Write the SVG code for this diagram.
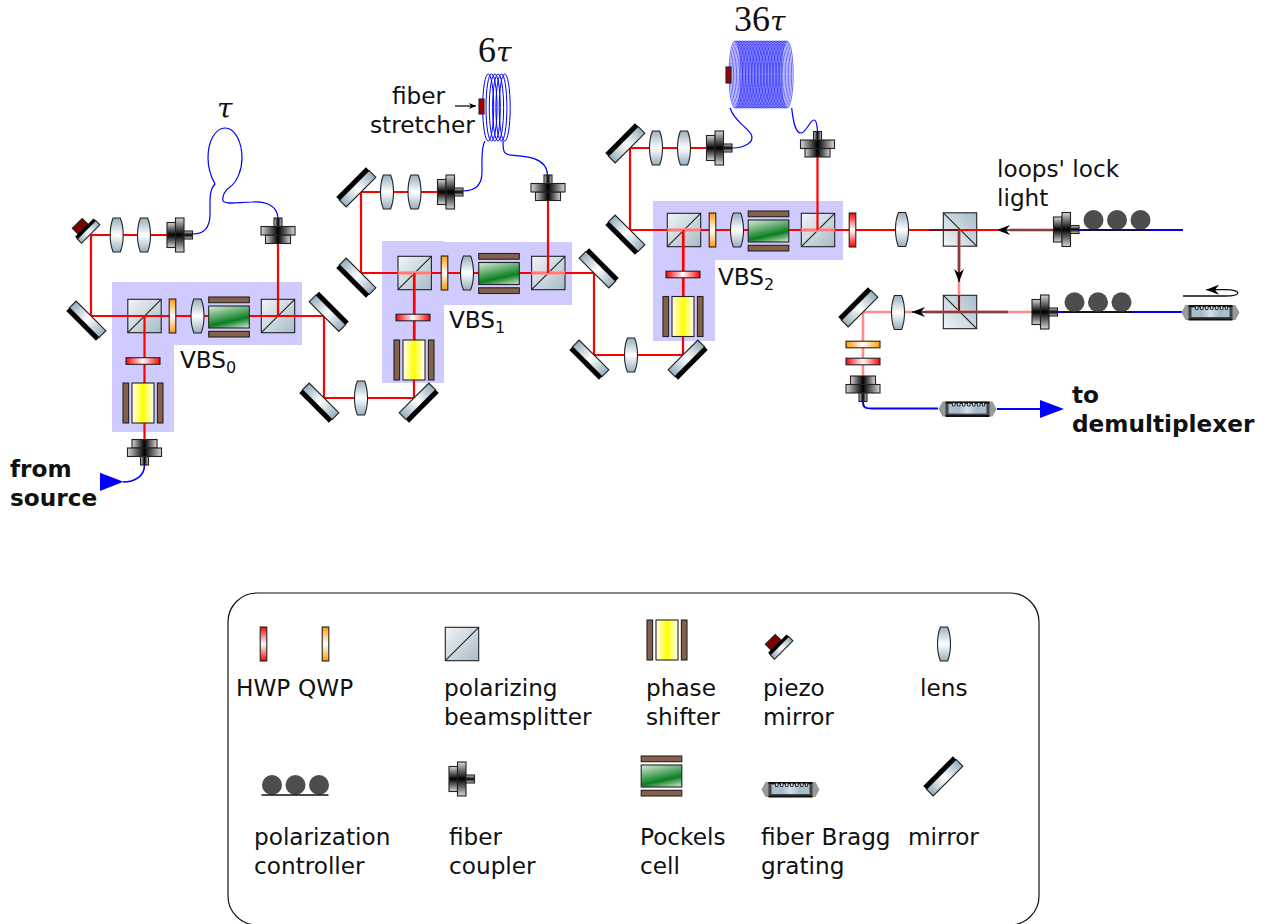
<svg xmlns="http://www.w3.org/2000/svg" xmlns:xlink="http://www.w3.org/1999/xlink" width="1268" height="924" viewBox="0 0 1268 924">
<style>
text{font-family:"DejaVu Sans",sans-serif;font-size:23.2px;fill:#111}
.b{font-weight:bold}
.m{font-family:"Liberation Serif",serif;font-size:36px}
.t{font-family:"DejaVu Serif",serif;font-size:28px;font-style:italic}
.sub{font-size:16px}
.s{stroke:#222;stroke-width:1.1}
.beam{fill:none;stroke:#f00;stroke-width:2.2}
.pale{fill:none;stroke:#ff8a8a;stroke-width:2.6}
.band{fill:none;stroke:#ff9a9a;stroke-width:4;opacity:.8}
.lock{fill:none;stroke:#5a1818;stroke-width:1.8}
.lockv{fill:none;stroke:#8a3a3a;stroke-width:2.6}
.fib{fill:none;stroke:#00f;stroke-width:1.2}
.fibw{fill:none;stroke:#00f;stroke-width:2}
.coil{fill:none;stroke:#00f;stroke-width:1}
.coilf{fill:none;stroke:#1a1aff;stroke-width:.65}
.vbs{fill:#d0cbff}
.pc{fill:#4d4d4d}
.thin{fill:none;stroke:#111;stroke-width:1.3}
</style>
<defs>
<linearGradient id="gCoup" x1="0" y1="0" x2="0" y2="1"><stop offset="0" stop-color="#d8d8d8"/><stop offset=".5" stop-color="#000"/><stop offset="1" stop-color="#d8d8d8"/></linearGradient>
<linearGradient id="gSteel" x1="0" y1="0" x2="1" y2="0"><stop offset="0" stop-color="#96aebd"/><stop offset=".5" stop-color="#fff"/><stop offset="1" stop-color="#96aebd"/></linearGradient>
<linearGradient id="gLens" x1="0" y1="0" x2="0" y2="1"><stop offset="0" stop-color="#96aebd"/><stop offset=".5" stop-color="#fff"/><stop offset="1" stop-color="#96aebd"/></linearGradient>
<linearGradient id="gPbs" x1="0" y1="0" x2="1" y2="1"><stop offset="0" stop-color="#f2f5f7"/><stop offset="1" stop-color="#a6bbc8"/></linearGradient>
<linearGradient id="gRed" x1="0" y1="0" x2="0" y2="1"><stop offset="0" stop-color="#f00"/><stop offset=".5" stop-color="#fff"/><stop offset="1" stop-color="#f00"/></linearGradient>
<linearGradient id="gOr" x1="0" y1="0" x2="0" y2="1"><stop offset="0" stop-color="#ff9a00"/><stop offset=".5" stop-color="#fff"/><stop offset="1" stop-color="#ff9a00"/></linearGradient>
<linearGradient id="gYel" x1="0" y1="0" x2="1" y2="0"><stop offset="0" stop-color="#fff"/><stop offset=".5" stop-color="#ff0"/><stop offset="1" stop-color="#fff"/></linearGradient>
<linearGradient id="gGrn" x1=".25" y1="-.1" x2=".75" y2="1.1"><stop offset="0" stop-color="#dcebdc"/><stop offset=".65" stop-color="#0a7f20"/><stop offset="1" stop-color="#dcebdc"/></linearGradient>
<g id="coupler"><rect class="s" x="-13" y="-12.5" width="8.5" height="25" fill="url(#gCoup)"/><rect class="s" x="-4.5" y="-17" width="8.5" height="34" fill="url(#gCoup)"/><rect class="s" x="4" y="-4" width="8.5" height="8" fill="url(#gCoup)"/></g>
<g id="mirror"><rect class="s" x="-21" y="0" width="42" height="9.5" fill="url(#gSteel)"/><rect x="-21" y="9.5" width="42" height="4.5" fill="#000"/></g>
<g id="piezo"><rect class="s" x="-5" y="9" width="14" height="8" fill="#800000"/><rect class="s" x="-13" y="0" width="26" height="6" fill="url(#gSteel)"/><rect x="-13" y="6" width="26" height="3" fill="#000"/></g>
<path id="lens" class="s" fill="url(#gLens)" d="M-3.6,-17H3.6C5.6,-12 6.5,-5 6.5,0C6.5,5 5.6,12 3.6,17H-3.6C-5.6,12 -6.5,5 -6.5,0C-6.5,-5 -5.6,-12 -3.6,-17Z"/>
<g id="pbs"><rect class="s" x="-16.7" y="-16.7" width="33.4" height="33.4" fill="url(#gPbs)"/><path class="s" fill="none" d="M-16.7,16.7L16.7,-16.7"/></g>
<rect id="hwp" class="s" x="-3.3" y="-17" width="6.6" height="34" fill="url(#gRed)"/>
<rect id="qwp" class="s" x="-3.3" y="-17" width="6.6" height="34" fill="url(#gOr)"/>
<g id="pockels"><rect class="s" x="-20.3" y="-11" width="40.6" height="22" fill="url(#gGrn)"/><rect class="s" x="-20.3" y="-20" width="40.6" height="5.7" fill="#85614a"/><rect class="s" x="-20.3" y="14.3" width="40.6" height="5.7" fill="#85614a"/></g>
<g id="shifter"><rect class="s" x="-11" y="-20" width="22" height="40" fill="url(#gYel)"/><rect class="s" x="-20" y="-20" width="5.6" height="40" fill="#85614a"/><rect class="s" x="14.4" y="-20" width="5.6" height="40" fill="#85614a"/></g>
<g id="polc"><circle class="pc" cx="-22.5" cy="-10" r="10"/><circle class="pc" cx="1" cy="-10" r="10"/><circle class="pc" cx="24.5" cy="-10" r="10"/><path d="M-33,0H34" stroke="#111" stroke-width="1.6"/></g>
<g id="fbg"><path fill="#999" d="M-29,0L-25,-7.5H25L29,0L25,7.5H-25Z"/><rect x="-22" y="-6.5" width="44" height="13.5" fill="#444"/><rect x="-19" y="-5" width="38" height="9.5" fill="#a9bfcc"/><rect x="-10" y="-5" width="20" height="9.5" fill="url(#gSteel)" opacity=".5"/><path d="M-22,-6.5H22M-22,7H22" stroke="#111" stroke-width="1.8"/><path d="M-15,-6V-3H-12.5V-6M-10,-6V-3H-7.5V-6M-5,-6V-3H-2.5V-6M0,-6V-3H2.5V-6M5,-6V-3H7.5V-6M10,-6V-3H12.5V-6M15,-6V-3H17V-6" fill="#ddd" stroke="#111" stroke-width=".8"/></g>
<g id="c6"><ellipse class="coilf" cx="0" cy="0" rx="6" ry="33.5"/><ellipse class="coilf" cx="1.49" cy="0" rx="6" ry="33.5"/><ellipse class="coilf" cx="2.98" cy="0" rx="6" ry="33.5"/><ellipse class="coilf" cx="4.47" cy="0" rx="6" ry="33.5"/><ellipse class="coilf" cx="5.96" cy="0" rx="6" ry="33.5"/><ellipse class="coilf" cx="7.45" cy="0" rx="6" ry="33.5"/></g>
<marker id="ah" markerUnits="userSpaceOnUse" viewBox="-15 -6 16 12" refX="0" refY="0" markerWidth="16" markerHeight="12" orient="auto"><path d="M0,0L-13,-5L-9,0L-13,5Z" fill="#000"/></marker>
<marker id="ahs" markerUnits="userSpaceOnUse" viewBox="-8 -4 9 8" refX="0" refY="0" markerWidth="9" markerHeight="8" orient="auto"><path d="M0,0L-7,-3L-5,0L-7,3Z" fill="#000"/></marker>
</defs>
<g id="vbs-regions">
<path id="vbs0-bg" class="vbs" d="M112,282H302V345H174V432H112Z"/>
<path id="vbs1-bg" class="vbs" d="M382,241H444V242H572V305H444V383H382Z"/>
<path id="vbs2-bg" class="vbs" d="M653,201H843V260H715V341H653Z"/>
</g>
<g id="splitters">
<use id="pbs0a" href="#pbs" x="144.5" y="316"/>
<use id="pbs0b" href="#pbs" x="278" y="316"/>
<use id="pbs1a" href="#pbs" x="414.7" y="273"/>
<use id="pbs1b" href="#pbs" x="548.3" y="273"/>
<use id="pbs2a" href="#pbs" x="684" y="230"/>
<use id="pbs2b" href="#pbs" x="818" y="230"/>
<use id="pbs3a" href="#pbs" transform="translate(960,229.5) rotate(-90)"/>
<use id="pbs3b" href="#pbs" transform="translate(960,312) rotate(-90)"/>
</g>
<g id="connectors">
<path class="beam" d="M167,235H91V316H324V398H414V273"/>
<path class="beam" d="M144.5,316V440M278,243V316"/>
<path class="beam" d="M437,192H361V273H594V355H683V230"/>
<path class="band" d="M398,273H431M531.6,273H565"/>
<path class="beam" d="M414.5,273V340M548,200V273"/>
<path class="beam" d="M707,148H630V230H997"/>
<path class="band" d="M667.3,230H700.7M801.3,230H834.7"/>
<path class="beam" d="M683.5,230V297M817.5,157V230"/>
<path class="pale" d="M1032,312H863V376M959,230V312"/>
<path class="lock" d="M929,230H960"/>
<path class="lockv" d="M959,230V270"/>
<path class="thin" d="M959,270V282" marker-end="url(#ah)"/>
<path class="lock" d="M959,295V312"/>
<path class="lockv" d="M1008,312H925"/>
<path class="thin" d="M925,312H912" marker-end="url(#ah)"/>
<path class="lockv" d="M1053,230H1010"/>
<path class="thin" d="M1010,230H997" marker-end="url(#ah)"/>
<path class="fib" d="M193,234C205,234 210,226 210,214C210,200 209,190 215,184C210,175 208,168 208,158C208,140 216,128 225,128C235,128 242,142 242,158C242,170 237,182 230,187C225,190 222,196 223,201C226,205 240,202 252,202C265,201 277,205 278,218"/>
<path class="fib" d="M463,191C475,191 482,186 482,172C482,160 481,147 485,141M503,141C503,152 504,154 510,155C525,156 547,157 547.5,175"/>
<path class="fib" d="M730,108C735,122 745,125 751,134C755,142 745,148 732,148M791.7,108C793,120 795,133 801,133C806,133 810,120 814,120C817,120 817,126 817.5,131"/>
<path class="fibw" d="M1079,230H1183M1058,312H1182M863,402C863,408 866,408.5 872,408.5H938M997,409H1040"/>
<path class="fib" style="stroke-width:1.6" d="M144.5,465C144.5,476 135,482 123,482"/>
<path class="thin" d="M1183,296H1225C1242,296 1242,290 1226,289.7H1206" marker-end="url(#ah)"/>
<path class="thin" d="M455,106H476" marker-end="url(#ahs)"/>
</g>
<g id="coil-tau-6">
<ellipse class="coil" cx="488.2" cy="107.5" rx="5.5" ry="33.5"/><ellipse class="coil" cx="491.5" cy="107.5" rx="5.5" ry="33.5"/><ellipse class="coil" cx="494.8" cy="107.5" rx="5.5" ry="33.5"/><ellipse class="coil" cx="498.1" cy="107.5" rx="5.5" ry="33.5"/><ellipse class="coil" cx="501.4" cy="107.5" rx="5.5" ry="33.5"/><ellipse class="coil" cx="504.7" cy="107.5" rx="5.5" ry="33.5"/>
</g>
<g id="coil-tau-36">
<use href="#c6" x="735" y="74.5"/><use href="#c6" x="743.94" y="74.5"/><use href="#c6" x="752.88" y="74.5"/><use href="#c6" x="761.82" y="74.5"/><use href="#c6" x="770.76" y="74.5"/><use href="#c6" x="779.7" y="74.5"/>
</g>
<g id="stretchers">
<rect id="stretch6" class="s" x="479" y="99" width="5" height="15" fill="#a00000"/>
<rect id="stretch36" class="s" x="726" y="67" width="5" height="16" fill="#a00000"/>
</g>
<g id="mirrors">
<use id="mp0" href="#piezo" transform="translate(90.7,234) rotate(135)"/>
<use id="m0" href="#mirror" transform="translate(91,316) rotate(45)"/>
<use id="m1" href="#mirror" transform="translate(324,316.5) rotate(-135)"/>
<use id="m2" href="#mirror" transform="translate(324,398) rotate(45)"/>
<use id="m4" href="#mirror" transform="translate(414,398) rotate(-45)"/>
<use id="m5" href="#mirror" transform="translate(361,273) rotate(45)"/>
<use id="m6" href="#mirror" transform="translate(361,192) rotate(135)"/>
<use id="m7" href="#mirror" transform="translate(594,273) rotate(-135)"/>
<use id="m8" href="#mirror" transform="translate(594,355) rotate(45)"/>
<use id="m9" href="#mirror" transform="translate(683,355) rotate(-45)"/>
<use id="m10" href="#mirror" transform="translate(630,230) rotate(45)"/>
<use id="m11" href="#mirror" transform="translate(630,148) rotate(135)"/>
<use id="m12" href="#mirror" transform="translate(863,312) rotate(135)"/>
</g>
<g id="lenses">
<use id="l1" href="#lens" x="116.7" y="235"/><use id="l2" href="#lens" x="144" y="235"/><use id="l3" href="#lens" x="197.5" y="316"/><use id="l4" href="#lens" x="361" y="398"/><use id="l5" href="#lens" x="467" y="273"/><use id="l6" href="#lens" x="387" y="192"/><use id="l7" href="#lens" x="414.5" y="192"/><use id="l8" href="#lens" x="656" y="148"/><use id="l9" href="#lens" x="684" y="148"/><use id="l10" href="#lens" x="737" y="230"/><use id="l11" href="#lens" x="631" y="355"/><use id="l12" href="#lens" x="902" y="229.5"/><use id="l13" href="#lens" x="898" y="312.5"/>
</g>
<g id="plates">
<use id="q0" href="#qwp" x="172.5" y="316"/><use id="q1" href="#qwp" x="444.5" y="273"/><use id="q2" href="#qwp" x="712.5" y="230"/>
<use id="h3" href="#hwp" x="852.5" y="230"/>
<use id="h0" href="#hwp" transform="translate(143,361) rotate(90)"/>
<use id="h1" href="#hwp" transform="translate(413,317.5) rotate(90)"/>
<use id="h2" href="#hwp" transform="translate(683,274.5) rotate(90)"/>
<use id="q4" href="#qwp" transform="translate(863,344.5) rotate(90)"/>
<use id="h4" href="#hwp" transform="translate(863,361.5) rotate(90)"/>
</g>
<g id="cells">
<use id="pk0" href="#pockels" x="229" y="317"/><use id="pk1" href="#pockels" x="499" y="273.5"/><use id="pk2" href="#pockels" x="768.5" y="231"/>
<use id="ps0" href="#shifter" x="143" y="403"/><use id="ps1" href="#shifter" x="414" y="360"/><use id="ps2" href="#shifter" x="683" y="316.5"/>
</g>
<g id="couplers">
<use id="c0" href="#coupler" transform="translate(144.5,452.5) rotate(90)"/>
<use id="c1" href="#coupler" x="180" y="235"/>
<use id="c2" href="#coupler" transform="translate(278,230.5) rotate(-90)"/>
<use id="c3" href="#coupler" x="450.5" y="192"/>
<use id="c4" href="#coupler" transform="translate(548,187.5) rotate(-90)"/>
<use id="c5" href="#coupler" x="719.5" y="148"/>
<use id="c6n" href="#coupler" transform="translate(817.5,144) rotate(-90)"/>
<use id="c7" href="#coupler" x="1066.5" y="229.5"/>
<use id="c8" href="#coupler" x="1045" y="312"/>
<use id="c9" href="#coupler" transform="translate(863,389) rotate(90)"/>
</g>
<g id="controllers">
<use id="pc1" href="#polc" x="1116" y="230"/>
<use id="pc2" href="#polc" x="1097" y="312.3"/>
</g>
<g id="gratings">
<use id="fbg1" href="#fbg" x="1210.5" y="312.5"/>
<use id="fbg2" href="#fbg" x="967.5" y="409"/>
</g>
<g id="arrowheads">
<path id="in-arrow" fill="#00f" d="M100,472.7V491L123.5,481.7Z"/>
<path id="out-arrow" fill="#00f" d="M1040,400V418L1064,409Z"/>
</g>
<g id="labels">
<text class="t" x="217" y="118">τ</text>
<text class="m" x="478" y="62">6<tspan class="t">τ</tspan></text>
<text class="m" x="734" y="31">36<tspan class="t">τ</tspan></text>
<text x="392" y="104">fiber</text><text x="370" y="133">stretcher</text>
<text x="180" y="368">VBS<tspan class="sub" dy="5">0</tspan></text>
<text x="449" y="328">VBS<tspan class="sub" dy="5">1</tspan></text>
<text x="718" y="285">VBS<tspan class="sub" dy="5">2</tspan></text>
<text class="b" x="10" y="477">from</text><text class="b" x="10" y="506">source</text>
<text class="b" x="1072" y="403">to</text><text class="b" x="1072" y="432">demultiplexer</text>
<text x="997" y="177">loops' lock</text><text x="997" y="206">light</text>
</g>
<g id="legend">
<rect id="legend-box" x="228" y="593" width="811" height="332" rx="29" fill="none" stroke="#111" stroke-width="1.2"/>
<g id="lg-hwp"><use href="#hwp" x="263.5" y="644"/><text x="236" y="696">HWP</text></g>
<g id="lg-qwp"><use href="#qwp" x="325.5" y="644"/><text x="298" y="696">QWP</text></g>
<g id="lg-pbs"><use href="#pbs" x="462" y="644"/><text x="444" y="696">polarizing</text><text x="444" y="725">beamsplitter</text></g>
<g id="lg-shifter"><use href="#shifter" x="667" y="640"/><text x="646" y="696">phase</text><text x="646" y="725">shifter</text></g>
<g id="lg-piezo"><use href="#piezo" transform="translate(783.7,650) rotate(135)"/><text x="763" y="696">piezo</text><text x="763" y="725">mirror</text></g>
<g id="lg-lens"><use href="#lens" x="944" y="644"/><text x="920" y="696">lens</text></g>
<g id="lg-polc"><use href="#polc" x="294.5" y="795"/><text x="254" y="845">polarization</text><text x="254" y="874">controller</text></g>
<g id="lg-coupler"><use href="#coupler" x="462" y="779"/><text x="449" y="845">fiber</text><text x="449" y="874">coupler</text></g>
<g id="lg-pockels"><use href="#pockels" x="661.5" y="776"/><text x="640" y="845">Pockels</text><text x="640" y="874">cell</text></g>
<g id="lg-fbg"><use href="#fbg" x="790.5" y="789.5"/><text x="761" y="845">fiber Bragg</text><text x="761" y="874">grating</text></g>
<g id="lg-mirror"><use href="#mirror" transform="translate(948,781) rotate(135)"/><text x="908" y="845">mirror</text></g>
</g>
</svg>
